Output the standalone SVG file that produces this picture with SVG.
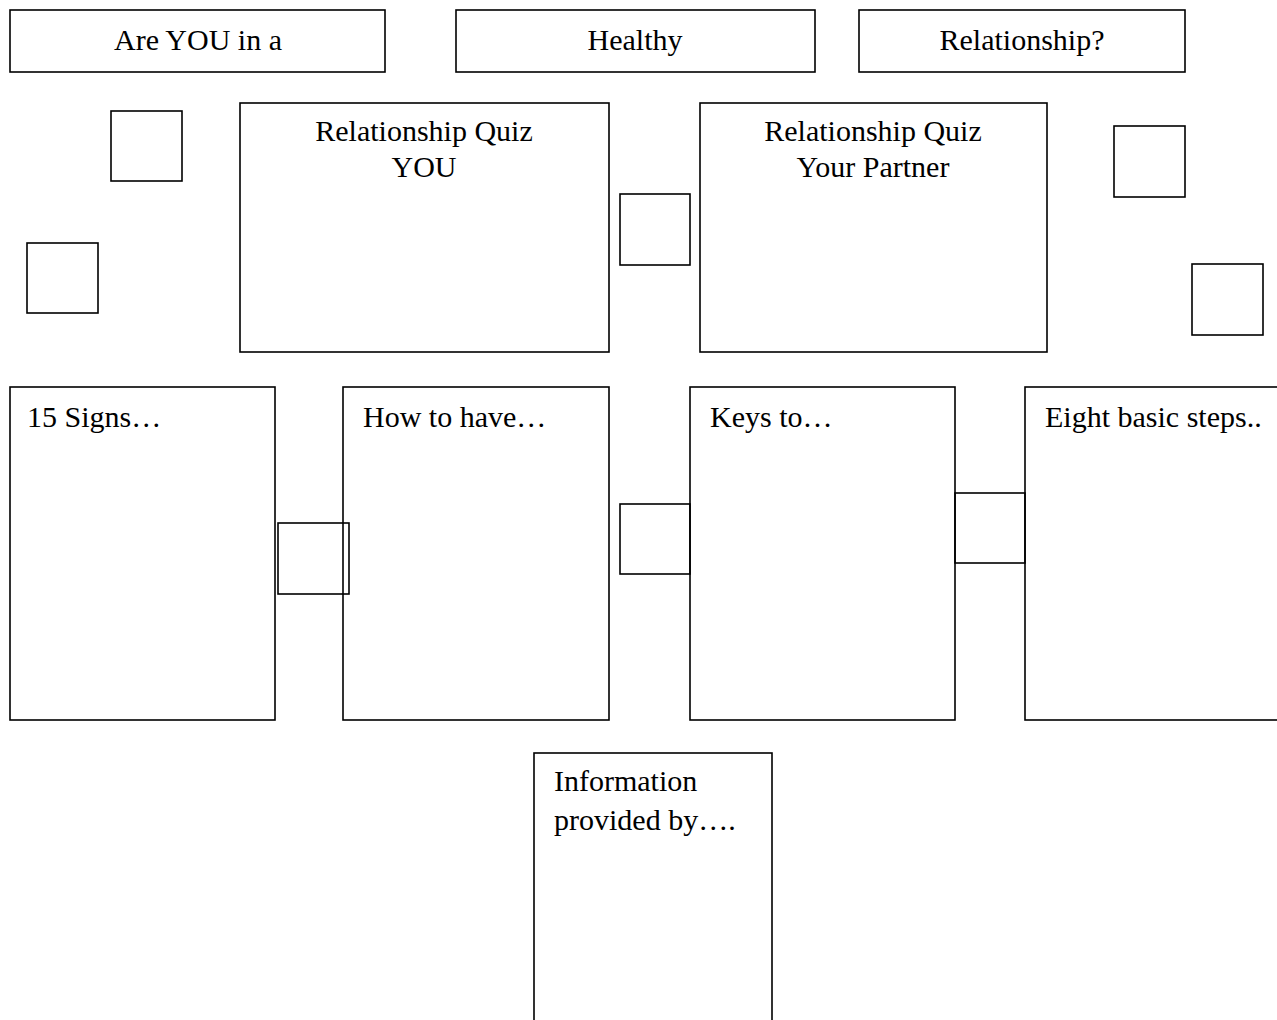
<svg xmlns="http://www.w3.org/2000/svg" width="1277" height="1020" viewBox="0 0 1277 1020">
<style>
.b{fill:#fff;stroke:#000;stroke-width:1.6}
.s{fill:none;stroke:#000;stroke-width:1.6}
text{font-family:"Liberation Serif","Times New Roman",serif;font-size:30px;fill:#000}
.c{text-anchor:middle}
</style>
<rect x="0" y="0" width="1277" height="1020" fill="#fff"/>
<g id="title1"><rect class="b" x="10" y="10" width="375" height="62"/><text class="c" x="198" y="50">Are YOU in a</text></g>
<g id="title2"><rect class="b" x="456" y="10" width="359" height="62"/><text class="c" x="635" y="50">Healthy</text></g>
<g id="title3"><rect class="b" x="859" y="10" width="326" height="62"/><text class="c" x="1022" y="50">Relationship?</text></g>
<g id="quizYou"><rect class="b" x="240" y="103" width="369" height="249"/><text class="c" x="424" y="141">Relationship Quiz</text><text class="c" x="424" y="177">YOU</text></g>
<g id="quizPartner"><rect class="b" x="700" y="103" width="347" height="249"/><text class="c" x="873" y="141">Relationship Quiz</text><text class="c" x="873" y="177">Your Partner</text></g>
<g id="sq1"><rect class="s" x="111" y="111" width="71" height="70"/></g>
<g id="sq2"><rect class="s" x="27" y="243" width="71" height="70"/></g>
<g id="sq3"><rect class="s" x="620" y="194" width="70" height="71"/></g>
<g id="sq4"><rect class="s" x="1114" y="126" width="71" height="71"/></g>
<g id="sq5"><rect class="s" x="1192" y="264" width="71" height="71"/></g>
<g id="signs"><rect class="b" x="10" y="387" width="265" height="333"/><text x="27" y="427">15 Signs…</text></g>
<g id="howto"><rect class="b" x="343" y="387" width="266" height="333"/><text x="363" y="427">How to have…</text></g>
<g id="keys"><rect class="b" x="690" y="387" width="265" height="333"/><text x="710" y="427">Keys to…</text></g>
<g id="eight"><rect class="b" x="1025" y="387" width="265" height="333"/><text x="1045" y="427">Eight basic steps..</text></g>
<g id="info"><rect class="b" x="534" y="753" width="238" height="280"/><text x="554" y="791">Information</text><text x="554" y="830">provided by….</text></g>
<g id="connectors">
<rect class="s" x="278" y="523" width="71" height="71"/>
<rect class="s" x="620" y="504" width="70" height="70"/>
<rect class="s" x="955" y="493" width="70" height="70"/>
</g>
</svg>
